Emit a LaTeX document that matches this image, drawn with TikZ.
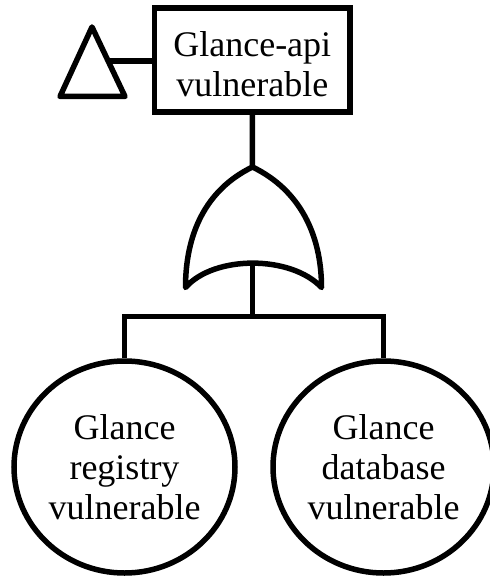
\documentclass[tikz,border=0pt]{standalone}
\usepackage{fontspec}
\setmainfont{Liberation Serif}
\usetikzlibrary{shapes.geometric}
\begin{document}
\begin{tikzpicture}[x=1pt,y=-1pt,line width=5.5pt,
  lbl/.style={font=\fontsize{36}{40}\selectfont,align=center,inner sep=0pt},
  evbox/.style={draw,rectangle,minimum width=195.5pt,minimum height=104pt,inner sep=0pt},
  basic/.style={draw,ellipse,minimum width=221pt,minimum height=212pt,inner sep=0pt,
    font=\fontsize{36}{40}\selectfont,align=center}]
\useasboundingbox (0,0) rectangle (489,577);
% top event
\node[evbox] (apibox) at (252.25,60) {};
\node[lbl] (apitext) at (252.25,64.5) {Glance-api\\vulnerable};
% transfer triangle
\coordinate (tA) at (92,27);
\coordinate (tL) at (60,96.5);
\coordinate (tR) at (125,96.5);
\coordinate (tS) at (107,61);
\draw[line join=round] (tA) -- (tL) -- (tR) -- cycle;
\draw (tS) -- (apibox.west |- tS);
% OR gate
\coordinate (ortop) at (252.5,167);
\coordinate (orL) at (185.5,287.5);
\coordinate (orR) at (321.5,287.5);
\coordinate (orbot) at (252.5,263.5);
\draw[line join=round] (ortop) .. controls (205,190) and (185.5,235) .. (orL)
  .. controls (214,255) and (291,255) .. (orR)
  .. controls (321.5,235) and (300,190) .. (ortop);
\draw (apibox.south) -- (ortop);
% basic events
\node[basic] (reg) at (124.5,467) {Glance\\registry\\vulnerable};
\node[basic] (db) at (383.5,467) {Glance\\database\\vulnerable};
\coordinate (bar) at (252.5,316.5);
\draw (orbot) -- (bar);
\draw (reg.north) |- (bar) -| (db.north);
\end{tikzpicture}
\end{document}
